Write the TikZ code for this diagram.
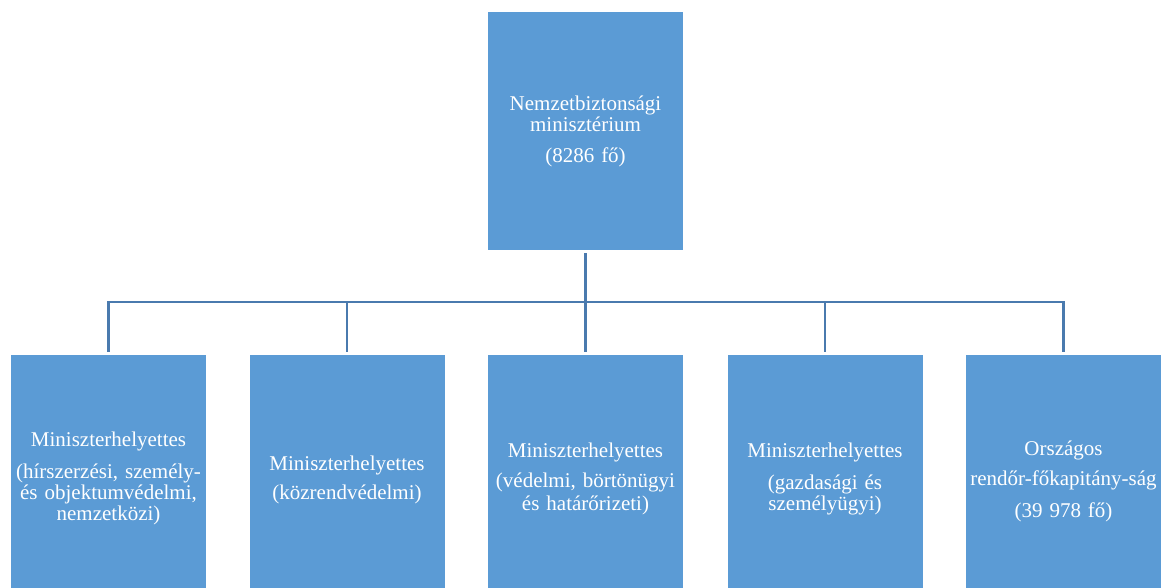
\documentclass[tikz,border=0pt]{standalone}
\usepackage{fontspec}
\setmainfont{Liberation Serif}
\definecolor{boxblue}{HTML}{5B9BD5}
\definecolor{linkblue}{HTML}{4A7AAE}
\newcommand{\downby}[1]{\rule{0pt}{#1}}
\begin{document}
\begin{tikzpicture}[x=1pt,y=-1pt,
  box/.style={rectangle, fill=boxblue, draw=none, text=white, inner sep=0pt,
    text width=195pt, align=center, font=\fontsize{21}{21}\selectfont},
  topbox/.style={box, minimum height=238pt},
  subbox/.style={box, minimum height=233pt},
  link/.style={draw=linkblue, line width=2.5pt}]
\useasboundingbox (0,0) rectangle (1163,588);
\node[topbox] (top) at (585.5,131) {Nemzetbiztonsági\\ minisztérium\\[10pt] (8286 fő)};
\node[subbox] (b1) at (108.5,471.5) {\downby{29pt}Miniszterhelyettes\\[11pt] (hírszerzési, személy-\\ és objektumvédelmi,\\ nemzetközi)};
\node[subbox] (b2) at (347,471.5) {\downby{31pt}Miniszterhelyettes\\[8pt] (közrendvédelmi)};
\node[subbox] (b3) at (585.5,471.5) {\downby{29pt}Miniszterhelyettes\\[9pt] (védelmi, börtönügyi\\[2pt] és határőrizeti)};
\node[subbox] (b4) at (825,471.5) {\downby{29pt}Miniszterhelyettes\\[11pt] (gazdasági és\\ személyügyi)};
\node[subbox] (b5) at (1063.5,471.5) {\downby{35pt}Országos\\[9pt] rendőr-főkapitány-ság\\[11pt] (39 978 fő)};
\coordinate (bus) at (585.5,302);
\draw[link] ([yshift=-3pt]top.south) -- (top.south |- bus);
\draw[link] ([yshift=3pt]b1.north) -- (b1.north |- bus) -- (b5.north |- bus) -- ([yshift=3pt]b5.north);
\foreach \n in {b2,b3,b4}
  \draw[link] (\n.north |- bus) -- ([yshift=3pt]\n.north);
\end{tikzpicture}
\end{document}
